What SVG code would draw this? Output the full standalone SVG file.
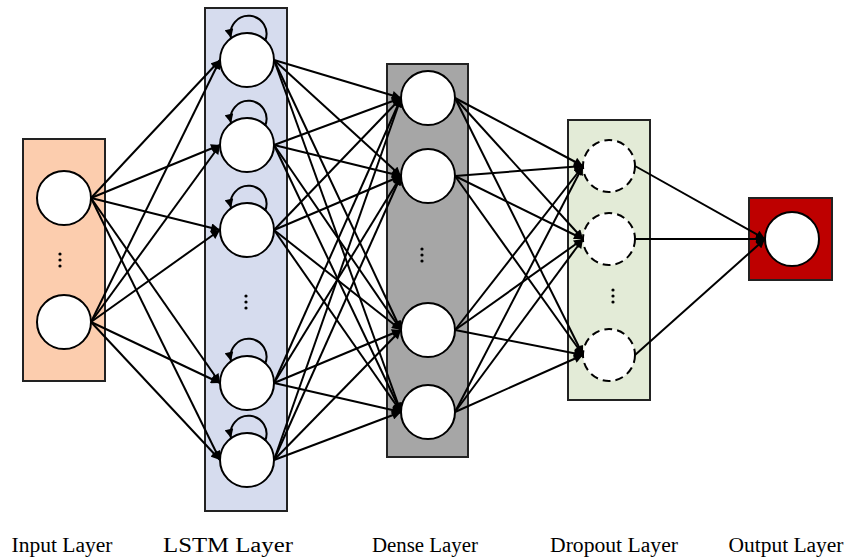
<svg xmlns="http://www.w3.org/2000/svg" width="845" height="560" viewBox="0 0 845 560">
<style>
.box{stroke:#222;stroke-width:2}
.n{fill:#fff;stroke:#000;stroke-width:2}
.d{fill:#fff;stroke:#000;stroke-width:2;stroke-dasharray:8 5}
.c line,.c path{stroke:#000;stroke-width:2;fill:none;marker-end:url(#ah)}
.lbl{font-family:"Liberation Serif",serif;font-size:20px;fill:#000;text-anchor:middle}
.dot{fill:#000}
</style>
<defs>
<marker id="ah" viewBox="0 0 10 10" refX="10" refY="5" markerWidth="5" markerHeight="4.5" orient="auto" markerUnits="strokeWidth">
<path d="M0,0 L10,5 L0,10 z" fill="#000"/>
</marker>
</defs>
<rect width="845" height="560" fill="#fff"/>
<g id="input-layer">
<rect class="box" x="23" y="139" width="82" height="242" fill="#FCCDAE"/>
<circle class="n" cx="64" cy="198" r="27"/>
<circle class="n" cx="64" cy="322" r="27"/>
<circle class="dot" cx="60" cy="254" r="1.6"/><circle class="dot" cx="60" cy="260" r="1.6"/><circle class="dot" cx="60" cy="266" r="1.6"/>
</g>
<g id="lstm-layer">
<rect class="box" x="205" y="8" width="82" height="503" fill="#D6DCEE"/>
<circle class="n" cx="247" cy="60" r="27"/>
<circle class="n" cx="247" cy="145" r="27"/>
<circle class="n" cx="247" cy="230" r="27"/>
<circle class="n" cx="247" cy="383" r="27"/>
<circle class="n" cx="247" cy="460" r="27"/>
<circle class="dot" cx="246" cy="296" r="1.6"/><circle class="dot" cx="246" cy="302" r="1.6"/><circle class="dot" cx="246" cy="308" r="1.6"/>
</g>
<g id="dense-layer">
<rect class="box" x="387" y="64" width="81" height="393" fill="#A6A6A6"/>
<circle class="n" cx="428" cy="98" r="27"/>
<circle class="n" cx="428" cy="176" r="27"/>
<circle class="n" cx="428" cy="330" r="27"/>
<circle class="n" cx="428" cy="412" r="27"/>
<circle class="dot" cx="422" cy="249" r="1.6"/><circle class="dot" cx="422" cy="255" r="1.6"/><circle class="dot" cx="422" cy="261" r="1.6"/>
</g>
<g id="dropout-layer">
<rect class="box" x="568" y="120" width="82" height="280" fill="#E3EBD7"/>
<circle class="d" cx="609" cy="166" r="26"/>
<circle class="d" cx="609" cy="239" r="26"/>
<circle class="d" cx="609" cy="355" r="26"/>
<circle class="dot" cx="613" cy="290" r="1.6"/><circle class="dot" cx="613" cy="296" r="1.6"/><circle class="dot" cx="613" cy="302" r="1.6"/>
</g>
<g id="output-layer">
<rect class="box" x="749" y="198" width="83" height="82" fill="#BE0000"/>
<circle class="n" cx="792" cy="239" r="27"/>
</g>
<g id="connectors" class="c">
<line x1="91" y1="198" x2="220" y2="60"/><line x1="91" y1="198" x2="220" y2="145"/><line x1="91" y1="198" x2="220" y2="230"/><line x1="91" y1="198" x2="220" y2="383"/><line x1="91" y1="198" x2="220" y2="460"/>
<line x1="91" y1="322" x2="220" y2="60"/><line x1="91" y1="322" x2="220" y2="145"/><line x1="91" y1="322" x2="220" y2="230"/><line x1="91" y1="322" x2="220" y2="383"/><line x1="91" y1="322" x2="220" y2="460"/>
<path d="M265,41 A18,18 0 1 0 231,38"/>
<path d="M265,126 A18,18 0 1 0 231,123"/>
<path d="M265,211 A18,18 0 1 0 231,208"/>
<path d="M265,364 A18,18 0 1 0 231,361"/>
<path d="M265,441 A18,18 0 1 0 231,438"/>
<line x1="274" y1="60" x2="401" y2="98"/><line x1="274" y1="60" x2="401" y2="176"/><line x1="274" y1="60" x2="401" y2="330"/><line x1="274" y1="60" x2="401" y2="412"/>
<line x1="274" y1="145" x2="401" y2="98"/><line x1="274" y1="145" x2="401" y2="176"/><line x1="274" y1="145" x2="401" y2="330"/><line x1="274" y1="145" x2="401" y2="412"/>
<line x1="274" y1="230" x2="401" y2="98"/><line x1="274" y1="230" x2="401" y2="176"/><line x1="274" y1="230" x2="401" y2="330"/><line x1="274" y1="230" x2="401" y2="412"/>
<line x1="274" y1="383" x2="401" y2="98"/><line x1="274" y1="383" x2="401" y2="176"/><line x1="274" y1="383" x2="401" y2="330"/><line x1="274" y1="383" x2="401" y2="412"/>
<line x1="274" y1="460" x2="401" y2="98"/><line x1="274" y1="460" x2="401" y2="176"/><line x1="274" y1="460" x2="401" y2="330"/><line x1="274" y1="460" x2="401" y2="412"/>
<line x1="455" y1="98" x2="583" y2="166"/><line x1="455" y1="98" x2="583" y2="239"/><line x1="455" y1="98" x2="583" y2="355"/>
<line x1="455" y1="176" x2="583" y2="166"/><line x1="455" y1="176" x2="583" y2="239"/><line x1="455" y1="176" x2="583" y2="355"/>
<line x1="455" y1="330" x2="583" y2="166"/><line x1="455" y1="330" x2="583" y2="239"/><line x1="455" y1="330" x2="583" y2="355"/>
<line x1="455" y1="412" x2="583" y2="166"/><line x1="455" y1="412" x2="583" y2="239"/><line x1="455" y1="412" x2="583" y2="355"/>
<line x1="635" y1="166" x2="765" y2="239"/><line x1="635" y1="239" x2="765" y2="239"/><line x1="635" y1="355" x2="765" y2="239"/>
</g>
<g id="labels">
<text class="lbl" x="62" y="552" textLength="101" lengthAdjust="spacingAndGlyphs">Input Layer</text>
<text class="lbl" x="228" y="552" textLength="130" lengthAdjust="spacingAndGlyphs">LSTM Layer</text>
<text class="lbl" x="425" y="552" textLength="106" lengthAdjust="spacingAndGlyphs">Dense Layer</text>
<text class="lbl" x="614" y="552" textLength="128" lengthAdjust="spacingAndGlyphs">Dropout Layer</text>
<text class="lbl" x="786" y="552" textLength="115" lengthAdjust="spacingAndGlyphs">Output Layer</text>
</g>
</svg>
